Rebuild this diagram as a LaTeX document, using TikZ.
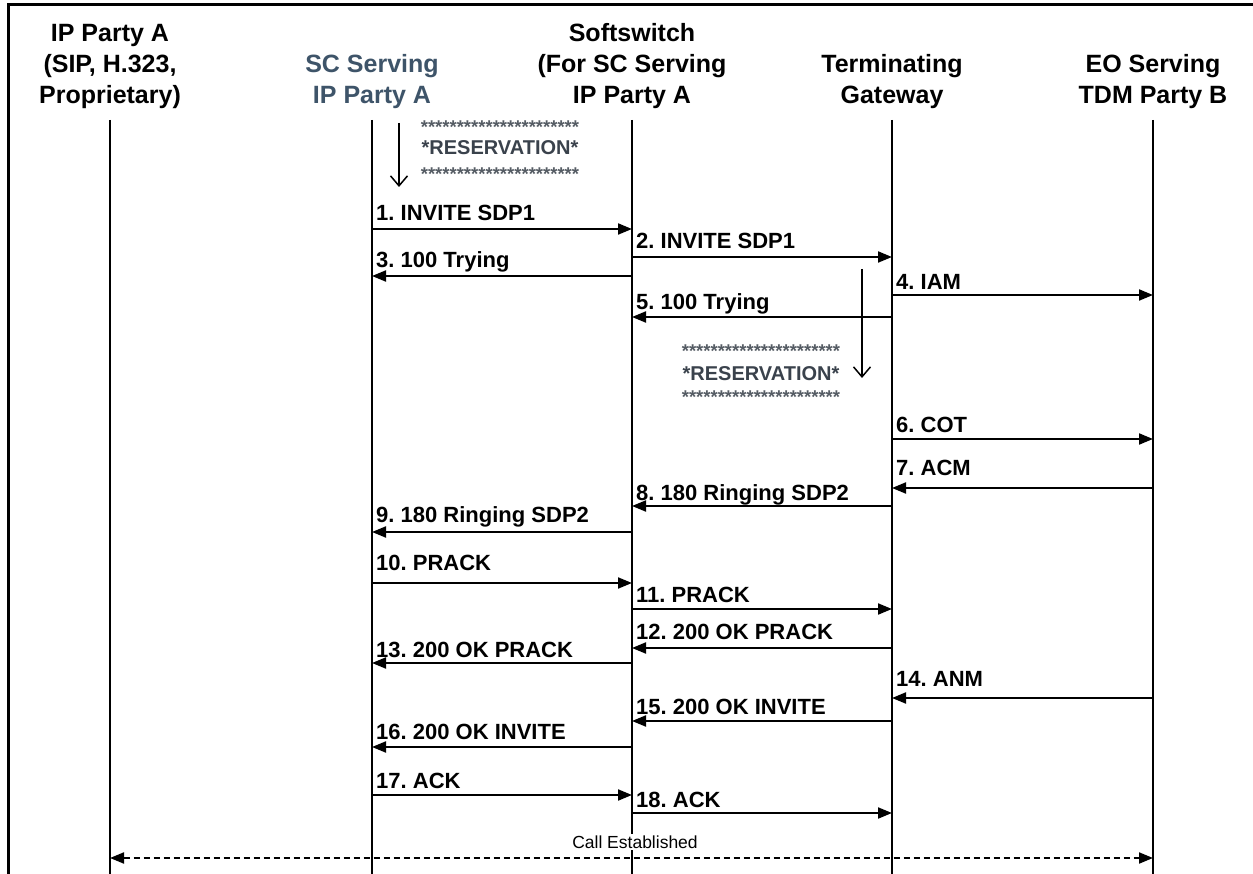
\documentclass[tikz,border=0pt]{standalone}
\usepackage{fontspec}
\setmainfont{Liberation Sans}
\usetikzlibrary{arrows.meta}
\frenchspacing
\definecolor{scblue}{RGB}{62,84,105}
\definecolor{resgray}{RGB}{58,66,76}
\definecolor{stargray}{RGB}{85,92,100}
\tikzset{
  hdr/.style={font=\bfseries\fontsize{25}{31}\selectfont, align=center, inner sep=0pt},
  life/.style={line width=2pt},
  frame/.style={line width=3pt},
  msgarrow/.style={line width=2pt, -{Triangle[length=14pt,width=11pt]}},
  msglabel/.style={font=\bfseries\fontsize{22}{26}\selectfont, anchor=base west, inner sep=0pt},
  stars/.style={font=\bfseries\fontsize{18.5}{20}\selectfont, text=stargray, anchor=base, inner sep=0pt},
  restext/.style={font=\bfseries\fontsize{20}{24}\selectfont, text=resgray, anchor=base, inner sep=0pt},
  resarrow/.style={line width=1.5pt, -{Straight Barb[length=10pt,width=17pt,line width=1.5pt]}},
  callline/.style={line width=2pt, dash pattern=on 6pt off 4pt, {Triangle[length=14pt,width=11pt]}-{Triangle[length=14pt,width=11pt]}},
  calltext/.style={font=\fontsize{17.5}{20}\selectfont, inner sep=2pt, fill=white},
}
\newcommand\seqmsg[6]{%
  \draw[msgarrow] (#1 |- 0,#4) -- (#2 |- 0,#4);
  \node[msglabel] (#6) at ([xshift=4pt]#3 |- 0,#5) {#6};%
}
\begin{document}
\begin{tikzpicture}[x=1pt,y=-1pt]
\useasboundingbox (0,0) rectangle (1253,874);
\fill[white] (0,0) rectangle (1253,874);
% frame
\coordinate (fTL) at (8,5);
\coordinate (fTR) at (1253,5);
\coordinate (fBL) at (8,874);
\draw[frame] (fBL) -- (fTL) -- (fTR);
% headers
\node[hdr] (hA)  at (110,66)  {IP Party A\\(SIP, H.323,\\Proprietary)};
\node[hdr, text=scblue] (hSC) at (372,81.5) {SC Serving\\IP Party A};
\node[hdr] (hSS) at (632,66)  {Softswitch\\(For SC Serving\\IP Party A};
\node[hdr] (hTG) at (892,81.5) {Terminating\\Gateway};
\node[hdr] (hEO) at (1153,81.5) {EO Serving\\TDM Party B};
% lifelines
\coordinate (A)  at (110,120);
\coordinate (SC) at (372,120);
\coordinate (SS) at (632,120);
\coordinate (TG) at (892,120);
\coordinate (EO) at (1153,120);
\foreach \l in {A,SC,SS,TG,EO}{\draw[life] (\l) -- (\l |- 0,874);}
% reservation 1
\node[stars]   (r1a) at (500,133.5) {**********************};
\node[restext] (r1b) at (500,155) {*RESERVATION*};
\node[stars]   (r1c) at (500,180.5) {**********************};
\coordinate (r1s) at (399,123);
\coordinate (r1e) at (399,187);
\draw[resarrow] (r1s) -- (r1e);
% reservation 2
\node[stars]   (r2a) at (761,357.5) {**********************};
\node[restext] (r2b) at (761,381) {*RESERVATION*};
\node[stars]   (r2c) at (761,403.5) {**********************};
\coordinate (r2s) at (862,269);
\coordinate (r2e) at (862,378);
\draw[resarrow] (r2s) -- (r2e);
% messages: from, to, left, arrow y, label baseline y, label
\seqmsg{SC}{SS}{SC}{229}{221}{1. INVITE SDP1}
\seqmsg{SS}{TG}{SS}{257}{249}{2. INVITE SDP1}
\seqmsg{SS}{SC}{SC}{276}{268}{3. 100 Trying}
\seqmsg{TG}{EO}{TG}{295}{290}{4. IAM}
\seqmsg{TG}{SS}{SS}{317}{310}{5. 100 Trying}
\seqmsg{TG}{EO}{TG}{439}{432}{6. COT}
\seqmsg{EO}{TG}{TG}{488}{475}{7. ACM}
\seqmsg{TG}{SS}{SS}{506}{500}{8. 180 Ringing SDP2}
\seqmsg{SS}{SC}{SC}{532}{522}{9. 180 Ringing SDP2}
\seqmsg{SC}{SS}{SC}{583}{570}{10. PRACK}
\seqmsg{SS}{TG}{SS}{609}{602}{11. PRACK}
\seqmsg{TG}{SS}{SS}{648}{639}{12. 200 OK PRACK}
\seqmsg{SS}{SC}{SC}{663}{657}{13. 200 OK PRACK}
\seqmsg{EO}{TG}{TG}{698}{686}{14. ANM}
\seqmsg{TG}{SS}{SS}{721}{714}{15. 200 OK INVITE}
\seqmsg{SS}{SC}{SC}{747}{739}{16. 200 OK INVITE}
\seqmsg{SC}{SS}{SC}{795}{788}{17. ACK}
\seqmsg{SS}{TG}{SS}{813}{807}{18. ACK}
% call established
\draw[callline] (A |- 0,858) -- (EO |- 0,858);
\node[calltext] (ce) at (635,842) {Call Established};
\end{tikzpicture}
\end{document}
